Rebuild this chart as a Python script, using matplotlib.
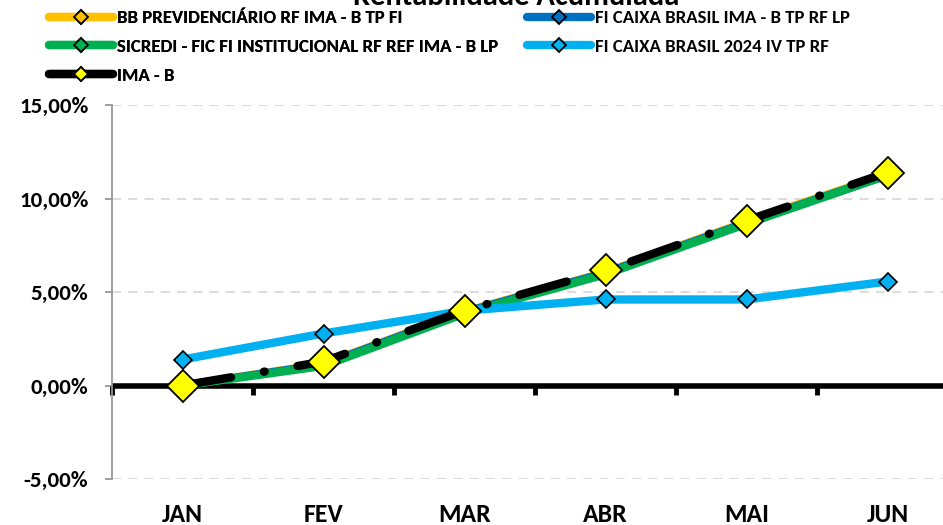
import matplotlib.pyplot as plt
from matplotlib import font_manager
from matplotlib.lines import Line2D
from matplotlib.ticker import FuncFormatter, FixedLocator

# chart was made with Calibri; Carlito has the same metrics
names = {f.name for f in font_manager.fontManager.ttflist}
if 'Carlito' in names:
    plt.rcParams['font.family'] = ['Carlito', 'DejaVu Sans']
else:
    plt.rcParams['font.family'] = ['DejaVu Sans']
    plt.rcParams['font.stretch'] = 'condensed'
plt.rcParams['font.weight'] = 'bold'

months = ['JAN', 'FEV', 'MAR', 'ABR', 'MAI', 'JUN']

bb_prev = [0.00, 1.15, 3.95, 6.05, 8.75, 11.30]
caixa_imab = [0.00, 1.12, 3.92, 6.02, 8.70, 11.25]
sicredi = [0.00, 1.05, 3.85, 5.95, 8.65, 11.25]
caixa_2024 = [1.39, 2.78, 4.00, 4.60, 4.60, 5.56]
ima_b = [0.00, 1.28, 4.01, 6.15, 8.82, 11.39]

fig = plt.figure(figsize=(9.43, 5.25), dpi=100)
ax = fig.add_axes([112 / 943, 1 - 479 / 525, 846 / 943, 374 / 525])

x = list(range(len(months)))

ax.plot(x, bb_prev, color='#FFC000', lw=6, marker='D', ms=7,
        mfc='#FFC000', mec='black', mew=1.2, zorder=3)
ax.plot(x, caixa_imab, color='#0070C0', lw=6, marker='D', ms=7,
        mfc='#0070C0', mec='black', mew=1.2, zorder=4)
ax.plot(x, sicredi, color='#00B050', lw=6, marker='D', ms=7,
        mfc='#00B050', mec='black', mew=1.2, zorder=5)
ax.plot(x, caixa_2024, color='#00B0F0', lw=6, marker='D', ms=9,
        mfc='#00B0F0', mec='black', mew=1.2, zorder=6)
ax.plot(x, ima_b, color='black', lw=6, dashes=(5.9, 4, 0.1, 4),
        dash_capstyle='round', zorder=7)
ax.plot(x, ima_b, ls='none', marker='D', ms=16, mfc='#FFFF00',
        mec='black', mew=1.3, zorder=8)

ax.set_xlim(-0.5, 5.5)
ax.set_ylim(-5, 15)
ax.set_yticks([-5, 0, 5, 10, 15])
ax.yaxis.set_major_formatter(FuncFormatter(lambda v, p: f'{v:.2f}%'.replace('.', ',')))
ax.yaxis.grid(True, color='#D9D9D9', ls=(0, (5, 4)), lw=1.3)
ax.set_axisbelow(True)

for s in ['top', 'right', 'bottom']:
    ax.spines[s].set_visible(False)
ax.spines['left'].set_color('#969696')
ax.spines['left'].set_linewidth(1.3)
ax.tick_params(axis='y', length=5, color='#969696', width=1.3,
               labelsize=16.5, pad=12)

# category axis sits on zero
ax.axhline(0, color='black', lw=4, zorder=2)
ax.xaxis.set_major_locator(FixedLocator([i - 0.5 for i in range(7)]))
ax.xaxis.set_minor_locator(FixedLocator(x))
ax.set_xticklabels([])
ax.set_xticklabels(months, minor=True)
ax.tick_params(axis='x', which='major', length=0)
ax.tick_params(axis='x', which='minor', length=0, labelsize=18.5, pad=17)
for b in [i - 0.5 for i in range(7)]:
    ax.plot([b, b], [0, -0.5], color='black', lw=3.5, solid_capstyle='butt',
            zorder=2, clip_on=False)

fig.text(516 / 943, 1 - 5 / 525, 'Rentabilidade Acumulada', ha='center',
         va='baseline', fontsize=22, fontweight='bold')


def handle(color, face):
    return Line2D([], [], color=color, lw=6, marker='D', ms=7,
                  mfc=face, mec='black', mew=1.3, solid_capstyle='round')


left_h = [handle('#FFC000', '#FFC000'), handle('#00B050', '#00B050'),
          handle('black', '#FFFF00')]
left_l = ['BB PREVIDENCIÁRIO RF IMA - B TP FI',
          'SICREDI - FIC FI INSTITUCIONAL RF REF IMA - B LP',
          'IMA - B']
right_h = [handle('#0070C0', '#0070C0'), handle('#00B0F0', '#00B0F0')]
right_l = ['FI CAIXA BRASIL IMA - B TP RF LP',
           'FI CAIXA BRASIL 2024 IV TP RF']

kw = dict(loc='upper left', frameon=False, fontsize=13.5, handlelength=3.4,
          handletextpad=0.25, labelspacing=0.68, borderaxespad=0,
          borderpad=0)
leg1 = fig.legend(left_h, left_l, bbox_to_anchor=(49 / 943, 1 - 10 / 525), **kw)
fig.add_artist(leg1)
fig.legend(right_h, right_l, bbox_to_anchor=(527 / 943, 1 - 10 / 525), **kw)

fig.savefig('out.png', dpi=100)
